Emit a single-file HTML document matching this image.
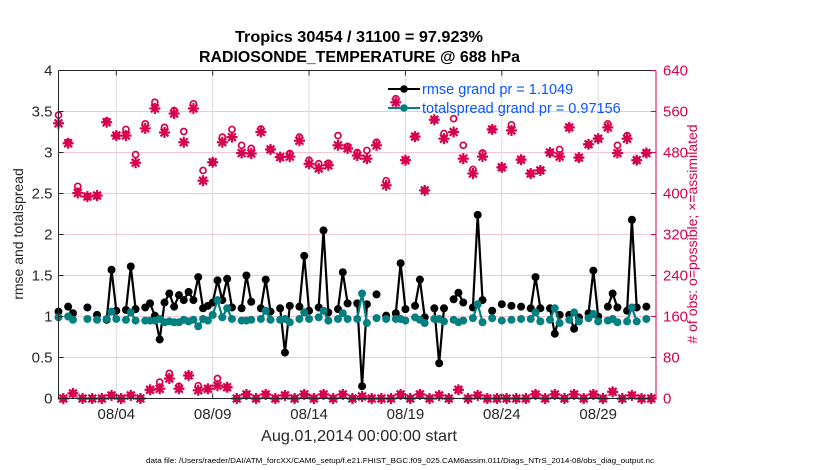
<!DOCTYPE html>
<html><head><meta charset="utf-8"><style>
html,body{margin:0;padding:0;background:#fff;}
svg{display:block;font-family:"Liberation Sans",Arial,sans-serif;}
</style></head><body>
<svg id="chart" width="830" height="470" viewBox="0 0 830 470" xmlns="http://www.w3.org/2000/svg">
<rect width="830" height="470" fill="#fff"/>
<g id="grid"></g>
<g id="obsLayer"></g>
<g id="lineLayer"></g>
<g id="axes"></g>
<text x="235" y="42" font-size="15.5" font-weight="bold" textLength="248" lengthAdjust="spacingAndGlyphs">Tropics 30454 / 31100 = 97.923%</text>
<text x="199" y="62" font-size="15.5" font-weight="bold" textLength="321" lengthAdjust="spacingAndGlyphs">RADIOSONDE_TEMPERATURE @ 688 hPa</text>
<text x="261" y="441" font-size="16" fill="#262626" textLength="196" lengthAdjust="spacingAndGlyphs">Aug.01,2014 00:00:00 start</text>
<text transform="translate(23,234) rotate(-90)" text-anchor="middle" font-size="14" fill="#262626">rmse and totalspread</text>
<text transform="translate(697,234) rotate(-90)" text-anchor="middle" font-size="14" fill="#d6004f"># of obs: o=possible; ×=assimilated</text>
<text x="146" y="463" font-size="7.5" fill="#000" textLength="508" lengthAdjust="spacingAndGlyphs">data file: /Users/raeder/DAI/ATM_forcXX/CAM6_setup/f.e21.FHIST_BGC.f09_025.CAM6assim.011/Diags_NTrS_2014-08/obs_diag_output.nc</text>
<g>
<line x1="388" y1="89" x2="420" y2="89" stroke="#000" stroke-width="2"/>
<circle cx="404" cy="89" r="3.8" fill="#000"/>
<text x="422" y="94" font-size="14.5" fill="#0a55ff">rmse grand pr = 1.1049</text>
<line x1="388" y1="108" x2="420" y2="108" stroke="#008080" stroke-width="2"/>
<circle cx="404" cy="108" r="3.8" fill="#008080"/>
<text x="422" y="113" font-size="14.5" fill="#0a55ff">totalspread grand pr = 0.97156</text>
</g>
</svg>
<script>
// 6-hourly slots, 124 over Aug 1 - Aug 31
const nSlots = 124;
const rmseIdx = [0,2,3,6,8,10,11,12,14,15,16,18,19,20,21,22,23,24,25,26,27,28,29,30,31,32,33,34,35,36,38,39,40,42,43,44,46,47,48,50,51,52,54,55,56,58,59,60,62,63,64,66,68,70,71,72,74,75,76,78,79,80,82,83,84,86,87,88,90,92,94,96,98,99,100,102,103,104,106,107,108,110,111,112,114,115,116,118,119,120,122];
const rmseVal = [1.06,1.12,1.04,1.11,1.02,0.96,1.57,1.07,1.08,1.61,1.09,1.11,1.16,1.01,0.72,1.17,1.28,1.12,1.26,1.2,1.3,1.2,1.48,1.1,1.13,1.17,1.44,1.2,1.46,1.11,1.1,1.5,1.18,1.1,1.45,1.06,1.1,0.56,1.13,1.12,1.74,1.07,1.11,2.05,1.05,1.09,1.54,1.16,1.16,0.15,1.15,1.27,1.01,1.04,1.65,1.09,1.13,1.45,0.99,1.1,0.43,1.1,1.21,1.29,1.17,1.11,2.24,1.2,1.07,1.15,1.13,1.12,1.1,1.48,1.1,1.1,0.79,1.02,1.02,0.85,0.99,1.04,1.56,1.0,1.12,1.28,1.11,1.07,2.18,1.11,1.12];
const spreadVal = [0.99,1.0,0.96,0.97,0.96,0.97,1.06,0.97,0.96,1.05,0.95,0.95,0.95,0.95,0.97,0.93,0.94,0.93,0.93,0.96,0.94,0.96,0.88,0.97,0.95,1.02,1.2,0.99,1.1,0.97,0.95,0.95,0.96,0.97,1.07,0.96,0.96,0.97,0.93,0.97,1.05,0.97,0.99,1.07,0.95,0.97,1.04,0.97,0.97,1.28,0.92,0.98,0.97,0.97,0.97,0.95,0.99,0.96,0.92,0.97,0.97,0.94,0.96,0.93,0.95,0.98,1.15,0.93,0.98,0.95,0.96,0.97,0.97,1.05,0.94,0.96,1.1,0.92,0.96,1.05,0.94,0.98,1.03,0.94,0.95,0.97,0.93,0.94,1.11,0.94,0.97];
const obsIdx = [0,1,2,3,4,5,6,7,8,9,10,11,12,13,14,15,16,17,18,19,20,21,22,23,24,25,26,27,28,29,30,31,32,33,34,35,36,37,38,39,40,41,42,43,44,45,46,47,48,49,50,51,52,53,54,55,56,57,58,59,60,61,62,63,64,65,66,67,68,69,70,71,72,73,74,75,76,77,78,79,80,81,82,83,84,85,86,87,88,89,90,91,92,93,94,95,96,97,98,99,100,101,102,103,104,105,106,107,108,109,110,111,112,113,114,115,116,117,118,119,120,121,122,123];
const obsAssim = [537,0,498,10,401,0,394,0,396,0,539,6,513,0,513,6,460,0,527,17,566,19,519,39,556,19,500,45,566,16,425,19,461,25,500,22,510,0,479,8,478,0,520,8,486,0,471,6,472,0,503,8,458,0,449,8,455,0,494,8,488,0,474,4,468,0,494,0,416,0,578,8,465,0,511,8,406,0,544,6,507,0,520,17,468,0,439,6,472,0,525,0,451,0,523,0,466,0,439,8,445,0,480,8,472,0,529,8,470,0,496,8,507,0,529,13,479,0,507,6,465,0,479,0];
const obsPoss = [553,0,500,10,414,0,394,0,396,0,541,6,513,0,525,6,476,0,536,17,578,32,529,49,562,24,521,45,575,25,445,19,461,39,510,22,525,0,494,8,488,0,526,8,486,0,471,6,478,0,510,8,465,0,458,8,459,0,513,8,492,0,480,4,484,0,500,0,425,0,585,8,465,0,511,8,406,0,544,6,517,0,546,17,494,0,447,6,479,0,525,0,451,0,534,0,466,0,439,8,445,0,480,8,486,0,529,8,470,0,496,8,507,0,536,13,494,0,513,6,465,0,479,0];
const leftTicks = ["0","0.5","1","1.5","2","2.5","3","3.5","4"];
const rightTicks = ["0","80","160","240","320","400","480","560","640"];
const dateTicks = ["08/04","08/09","08/14","08/19","08/24","08/29"];
const dateTickDays = [3,8,13,18,23,28];

const X0=58.5,X1=656,Y0=398.5,Y1=70.5;
const NS='http://www.w3.org/2000/svg';
function xDay(d){return X0+(X1-X0)*d/31;}
function xSlot(i){return xDay(i/4);}
function yL(v){return Y0-(Y0-Y1)*v/4;}
function yR(v){return Y0-(Y0-Y1)*v/640;}
function mk(tag,attrs,parent){const e=document.createElementNS(NS,tag);for(const k in attrs)e.setAttribute(k,attrs[k]);parent.appendChild(e);return e;}
const grid=document.getElementById('grid'),axes=document.getElementById('axes'),obsL=document.getElementById('obsLayer'),lineL=document.getElementById('lineLayer');
const CR='#d6004f';
for(let k=1;k<rightTicks.length-1;k++){const y=yR(+rightTicks[k]);const g=mk('line',{x1:X0,x2:X1,y1:y,y2:y,stroke:'#f2c6d6','stroke-width':1},grid);}
dateTickDays.forEach((d,k)=>{const x=xDay(d);const g=mk('line',{x1:x,x2:x,y1:Y1,y2:Y0,stroke:'#dcdcdc','stroke-width':1},grid);
 const t=mk('text',{x:x,y:419,'text-anchor':'middle','font-size':15,fill:'#262626'},axes);t.textContent=dateTicks[k];
 mk('line',{x1:x,x2:x,y1:Y1,y2:Y1+5,stroke:'#262626'},axes);mk('line',{x1:x,x2:x,y1:Y0,y2:Y0-5,stroke:'#262626'},axes);});
function asterisk(cx,cy,p){const g=mk('g',{stroke:CR,'stroke-width':2.2},p);const r=5.5,d=3.9;
 mk('line',{x1:cx-r,x2:cx+r,y1:cy,y2:cy},g);mk('line',{x1:cx,x2:cx,y1:cy-r,y2:cy+r},g);
 mk('line',{x1:cx-d,x2:cx+d,y1:cy-d,y2:cy+d},g);mk('line',{x1:cx-d,x2:cx+d,y1:cy+d,y2:cy-d},g);
 mk('circle',{cx:cx,cy:cy,r:2.5,fill:CR,stroke:'none'},g);return g;}
obsIdx.forEach((i,k)=>{const x=xSlot(i);
 const c=mk('circle',{cx:x,cy:yR(obsPoss[k]),r:3,fill:'none',stroke:CR,'stroke-width':1.7},obsL);
 const a=asterisk(x,yR(obsAssim[k]),obsL);});
function series(vals,color,name){let segs=[],cur=[];
 for(let k=0;k<rmseIdx.length;k++){if(k>0&&rmseIdx[k]-rmseIdx[k-1]>1){if(cur.length)segs.push(cur);cur=[];}cur.push([xSlot(rmseIdx[k]),yL(vals[k])]);}
 if(cur.length)segs.push(cur);
 segs.forEach(s=>{if(s.length>1){const p=mk('polyline',{points:s.map(q=>q.join(',')).join(' '),fill:'none',stroke:color,'stroke-width':2.2,'stroke-linejoin':'round'},lineL);}});
 rmseIdx.forEach((i,k)=>{const c=mk('circle',{cx:xSlot(i),cy:yL(vals[k]),r:4,fill:color},lineL);});}
series(rmseVal,'#000','rmse');
series(spreadVal,'#008080','totalspread');
mk('line',{x1:X0,x2:X1,y1:Y1,y2:Y1,stroke:'#262626'},axes);
mk('line',{x1:X0,x2:X1,y1:Y0,y2:Y0,stroke:'#262626'},axes);
mk('line',{x1:X0,x2:X0,y1:Y1,y2:Y0,stroke:'#262626'},axes);
mk('line',{x1:X1,x2:X1,y1:Y1,y2:Y0,stroke:CR},axes);
leftTicks.forEach(v=>{const y=yL(+v);mk('line',{x1:X0,x2:X0+5,y1:y,y2:y,stroke:'#262626'},axes);
 const t=mk('text',{x:X0-6,y:y+5,'text-anchor':'end','font-size':15,fill:'#262626'},axes);t.textContent=v;});
rightTicks.forEach(v=>{const y=yR(+v);mk('line',{x1:X1-5,x2:X1,y1:y,y2:y,stroke:CR},axes);
 const t=mk('text',{x:X1+7,y:y+5,'text-anchor':'start','font-size':15,fill:CR},axes);t.textContent=v;});
</script>
</body></html>
